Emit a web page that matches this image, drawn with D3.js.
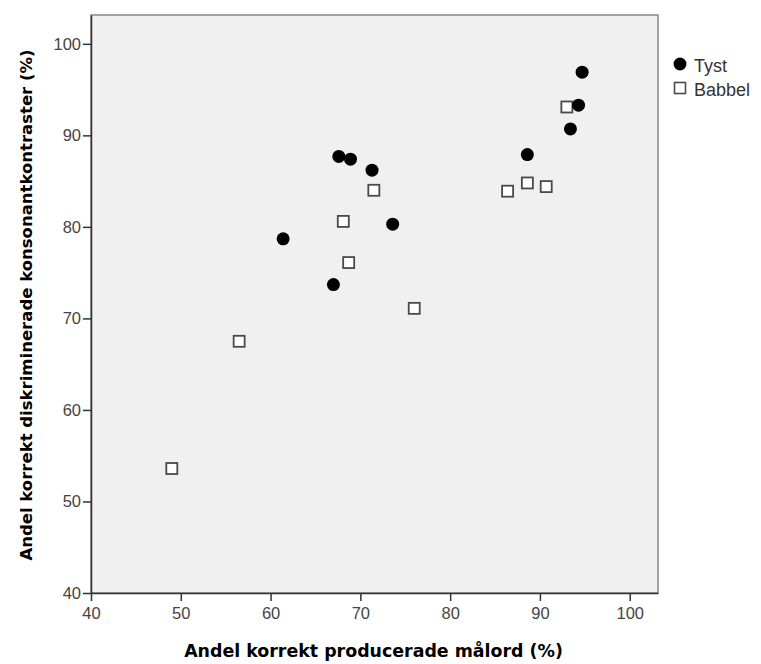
<!DOCTYPE html>
<html>
<head>
<meta charset="utf-8">
<script src="https://cdn.jsdelivr.net/npm/d3@7"></script>
<style>
  body { margin: 0; background: #fff; }
  .tick text { font-family: "Liberation Sans", Arial, sans-serif; font-size: 16.5px; fill: #444; }
  .title { font-family: "DejaVu Sans", Verdana, sans-serif; font-weight: bold; fill: #000; }
  .legend text { font-family: "Liberation Sans", Arial, sans-serif; font-size: 18px; fill: #333; }
</style>
</head>
<body>
<svg class="chart" width="761" height="664"></svg>
<script>
// data: [producerade målord %, diskriminerade kontraster %]
var tyst = [
  [61.4, 78.7], [67.6, 87.7], [68.9, 87.4], [71.3, 86.2], [73.6, 80.3],
  [67.0, 73.7], [94.7, 96.9], [94.3, 93.3], [93.4, 90.7], [88.6, 87.9]
];
var babbel = [
  [71.5, 84.0], [68.1, 80.6], [68.7, 76.1], [76.0, 71.1], [56.5, 67.5],
  [49.0, 53.6], [93.0, 93.1], [88.6, 84.8], [90.7, 84.4], [86.4, 83.9]
];
var xTicks = [40, 50, 60, 70, 80, 90, 100];
var yTicks = [40, 50, 60, 70, 80, 90, 100];
var legendLabels = ["Tyst", "Babbel"];

var svg = d3.select(".chart"),
    margin = {top: 15, right: 103, bottom: 71, left: 91},
    width = +svg.attr("width") - margin.left - margin.right,
    height = +svg.attr("height") - margin.top - margin.bottom,
    g = svg.append("g").attr("transform", "translate(" + margin.left + "," + margin.top + ")");

var x = d3.scaleLinear().domain([40, 103.15]).range([0, width]);
var y = d3.scaleLinear().domain([40, 103.15]).range([height, 0]);

// plot background and frame
g.append("rect")
    .attr("width", width)
    .attr("height", height)
    .attr("fill", "#f0f0f0")
    .attr("stroke", "#888")
    .attr("stroke-width", 1.5);

// axes
var xAxis = g.append("g")
    .attr("transform", "translate(0," + height + ")")
    .call(d3.axisBottom(x).tickValues(xTicks).tickSize(8).tickPadding(6).tickSizeOuter(0));
var yAxis = g.append("g")
    .call(d3.axisLeft(y).tickValues(yTicks).tickSize(8).tickPadding(2).tickSizeOuter(0));

[xAxis, yAxis].forEach(function(a) {
  a.select(".domain").attr("stroke", "#333").attr("stroke-width", 1.5);
  a.selectAll(".tick line").attr("stroke", "#333").attr("stroke-width", 1.5);
});

// Babbel squares go first, the circles sit on top
var s = 11;
g.selectAll(".babbel")
    .data(babbel)
  .enter().append("rect")
    .attr("class", "babbel")
    .attr("x", function(d) { return x(d[0]) - s / 2; })
    .attr("y", function(d) { return y(d[1]) - s / 2; })
    .attr("width", s)
    .attr("height", s)
    .attr("fill", "#fff")
    .attr("stroke", "#4a4a4a")
    .attr("stroke-width", 1.8);

g.selectAll(".tyst")
    .data(tyst)
  .enter().append("circle")
    .attr("class", "tyst")
    .attr("cx", function(d) { return x(d[0]); })
    .attr("cy", function(d) { return y(d[1]); })
    .attr("r", 6.5)
    .attr("fill", "#000");

// axis titles
svg.append("text")
    .attr("class", "title")
    .attr("x", margin.left + width / 2 - 1)
    .attr("y", 657)
    .attr("text-anchor", "middle")
    .style("font-size", "17.4px")
    .text("Andel korrekt producerade målord (%)");

svg.append("text")
    .attr("class", "title")
    .attr("transform", "translate(32,305) rotate(-90)")
    .attr("text-anchor", "middle")
    .style("font-size", "16.5px")
    .text("Andel korrekt diskriminerade konsonantkontraster (%)");

// legend
var legend = svg.append("g").attr("class", "legend");
legend.append("circle").attr("cx", 680).attr("cy", 64).attr("r", 6.5).attr("fill", "#000");
legend.append("rect").attr("x", 674.5).attr("y", 82.5).attr("width", 11).attr("height", 11)
    .attr("fill", "#fff").attr("stroke", "#4a4a4a").attr("stroke-width", 1.6);
legend.selectAll("text")
    .data(legendLabels)
  .enter().append("text")
    .attr("x", 694)
    .attr("y", function(d, i) { return 72 + i * 24; })
    .text(function(d) { return d; });
</script>
</body>
</html>
